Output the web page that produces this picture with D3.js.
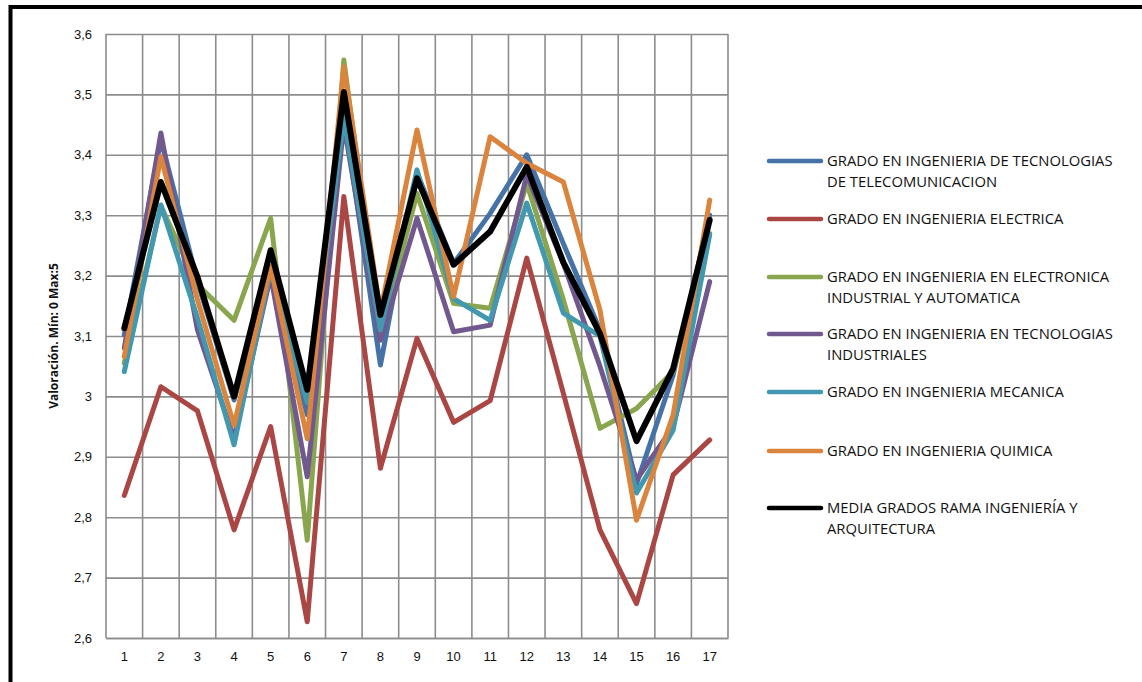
<!DOCTYPE html>
<html>
<head>
<meta charset="utf-8">
<script src="https://cdn.jsdelivr.net/npm/d3@7.9.0/dist/d3.min.js"></script>
<style>
  body { margin: 0; background: #fff; }
  svg { display: block; font-family: "Open Sans", "Liberation Sans", sans-serif; }
</style>
</head>
<body>
<div id="chart"></div>
<script>
const categories = d3.range(1, 18);

const telecom = [3.102, 3.425, 3.19, 2.994, 3.205, 2.97, 3.47, 3.052, 3.37, 3.22, 3.303, 3.40, 3.253, 3.11, 2.855, 3.035, 3.30];
const electrica = [2.836, 3.016, 2.976, 2.779, 2.95, 2.627, 3.331, 2.881, 3.096, 2.957, 2.993, 3.229, 3.005, 2.779, 2.657, 2.87, 2.928];
const electronica = [3.055, 3.315, 3.185, 3.126, 3.295, 2.762, 3.557, 3.10, 3.336, 3.154, 3.146, 3.353, 3.16, 2.947, 2.98, 3.041, 3.27];
const industriales = [3.08, 3.436, 3.11, 2.93, 3.20, 2.867, 3.45, 3.093, 3.295, 3.107, 3.118, 3.367, 3.22, 3.05, 2.862, 2.95, 3.19];
const mecanica = [3.041, 3.317, 3.13, 2.92, 3.21, 2.99, 3.46, 3.11, 3.375, 3.162, 3.126, 3.32, 3.138, 3.10, 2.84, 2.944, 3.268];
const quimica = [3.066, 3.397, 3.16, 2.952, 3.215, 2.93, 3.546, 3.14, 3.441, 3.165, 3.43, 3.386, 3.355, 3.143, 2.795, 2.969, 3.325];
const media = [3.113, 3.355, 3.198, 3.0, 3.242, 3.011, 3.504, 3.135, 3.361, 3.218, 3.273, 3.38, 3.222, 3.104, 2.926, 3.046, 3.292];

const seriesNames = [
  ["GRADO EN INGENIERIA DE TECNOLOGIAS", "DE TELECOMUNICACION"],
  ["GRADO EN INGENIERIA ELECTRICA"],
  ["GRADO EN INGENIERIA EN ELECTRONICA", "INDUSTRIAL Y AUTOMATICA"],
  ["GRADO EN INGENIERIA EN TECNOLOGIAS", "INDUSTRIALES"],
  ["GRADO EN INGENIERIA MECANICA"],
  ["GRADO EN INGENIERIA QUIMICA"],
  ["MEDIA GRADOS RAMA INGENIERÍA Y", "ARQUITECTURA"]
];
const seriesValues = [telecom, electrica, electronica, industriales, mecanica, quimica, media];
const colors = ["#4572A7", "#AA4643", "#89A54E", "#71588F", "#4198AF", "#DB843D", "#000000"];
const yTicks = [2.6, 2.7, 2.8, 2.9, 3.0, 3.1, 3.2, 3.3, 3.4, 3.5, 3.6];

const width = 1142, height = 682;
const plot = { left: 106, right: 728, top: 34, bottom: 638 };

const svg = d3.select('#chart')
  .append('svg')
  .attr('width', width)
  .attr('height', height);

svg.append('rect')
  .attr('width', width)
  .attr('height', height)
  .attr('fill', '#fff');

// outer frame
svg.append('rect')
  .attr('x', 10.5)
  .attr('y', 7)
  .attr('width', 1150)
  .attr('height', 700)
  .attr('fill', 'none')
  .attr('stroke', '#000')
  .attr('stroke-width', 4);

const x = d3.scaleBand()
  .domain(categories)
  .range([plot.left, plot.right]);

const y = d3.scaleLinear()
  .domain([2.6, 3.6])
  .range([plot.bottom, plot.top]);

const fmt = v => (v === 3 ? '3' : d3.format('.1f')(v).replace('.', ','));

// horizontal gridlines
svg.append('g')
  .attr('transform', `translate(${plot.left},0)`)
  .call(d3.axisLeft(y).tickValues(yTicks).tickSize(-(plot.right - plot.left)).tickFormat(fmt).tickPadding(14))
  .call(g => g.select('.domain').remove())
  .call(g => g.selectAll('line').attr('stroke', '#8c8c8c').attr('stroke-width', 1.6))
  .call(g => g.selectAll('text').attr('font-size', 13).attr('fill', '#111'));

// vertical gridlines at band edges
svg.append('g')
  .selectAll('line')
  .data(categories.concat([null]))
  .join('line')
  .attr('x1', d => d === null ? plot.right : x(d))
  .attr('x2', d => d === null ? plot.right : x(d))
  .attr('y1', plot.top)
  .attr('y2', plot.bottom)
  .attr('stroke', '#8c8c8c')
  .attr('stroke-width', 1.6);

// x axis labels
svg.append('g')
  .attr('transform', `translate(0,${plot.bottom})`)
  .call(d3.axisBottom(x).tickSize(0).tickPadding(14))
  .call(g => g.select('.domain').attr('stroke', '#8c8c8c').attr('stroke-width', 1.6))
  .call(g => g.selectAll('text').attr('font-size', 13).attr('fill', '#111'));

// y axis title
svg.append('text')
  .attr('transform', `translate(58,${(plot.top + plot.bottom) / 2}) rotate(-90)`)
  .attr('text-anchor', 'middle')
  .attr('font-size', 12)
  .attr('font-weight', 'bold')
  .attr('fill', '#111')
  .text('Valoración. Mín: 0 Max:5');

// series lines
const line = d3.line()
  .x((d, i) => x(categories[i]) + x.bandwidth() / 2)
  .y(d => y(d));

seriesValues.forEach((vals, i) => {
  svg.append('path')
    .attr('d', line(vals))
    .attr('fill', 'none')
    .attr('stroke', colors[i])
    .attr('stroke-width', i === 6 ? 6 : 5)
    .attr('stroke-linejoin', 'round')
    .attr('stroke-linecap', 'round');
});

// legend
const legendY = [161, 219, 277, 334, 392, 451, 508];
const legend = svg.append('g');
seriesNames.forEach((lines, i) => {
  const g = legend.append('g').attr('transform', `translate(0,${legendY[i]})`);
  g.append('line')
    .attr('x1', 769).attr('x2', 821)
    .attr('stroke', colors[i])
    .attr('stroke-width', 4.5)
    .attr('stroke-linecap', 'round');
  lines.forEach((t, j) => {
    g.append('text')
      .attr('x', 827)
      .attr('y', j * 21)
      .attr('dy', '0.36em')
      .attr('font-size', 14.8)
      .attr('fill', '#111')
      .text(t);
  });
});
</script>
</body>
</html>
